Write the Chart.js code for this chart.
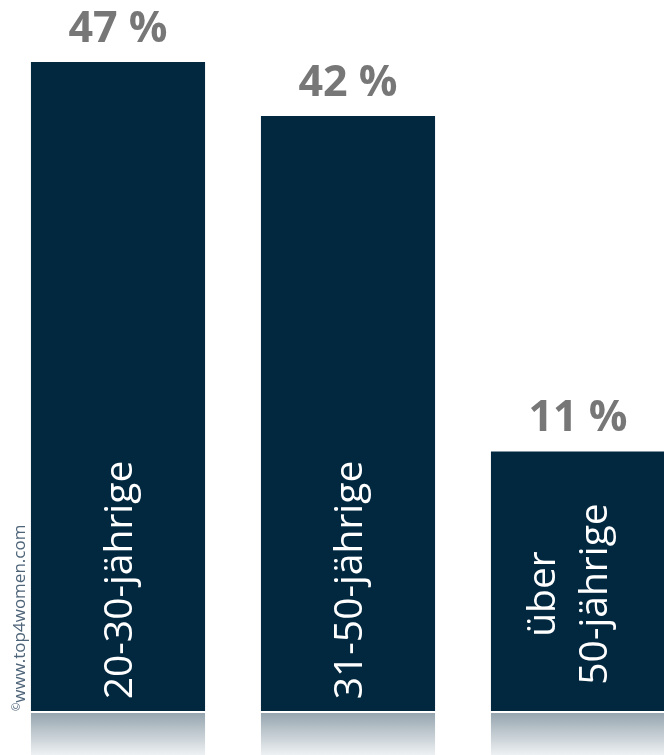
<!DOCTYPE html>
<html lang="de">
<head>
<meta charset="utf-8">
<title>Altersgruppen</title>
<script src="https://cdn.jsdelivr.net/npm/chart.js@4/dist/chart.umd.min.js"></script>
<style>
    html, body { margin: 0; padding: 0; background: #fff; }
    #wrap { width: 664px; height: 755px; position: relative; }
</style>
</head>
<body>
<div id="wrap"><canvas id="altersChart"></canvas></div>
<script>
    // Altersgruppen und Anteile in Prozent
    const kategorien = ['20-30-jährige', '31-50-jährige', ['über', '50-jährige']];
    const anteile = [47, 42, 11];
    const wertLabels = anteile.map(v => `${v} %`);

    // untere Grenze der Werteachse, Balken starten dort
    const Y_MIN = -13;
    const Y_MAX = 47;

    const BALKEN_FARBE = '#022840';
    const FONT = '"Open Sans", "Noto Sans", sans-serif';

    // Spiegelung unter den Balken
    const spiegelung = {
        id: 'spiegelung',
        afterDatasetsDraw(chart) {
            const ctx = chart.ctx;
            const meta = chart.getDatasetMeta(0);
            const unten = chart.height;
            ctx.save();
            meta.data.forEach(bar => {
                const top = bar.base + 2;
                const grad = ctx.createLinearGradient(0, top, 0, unten);
                grad.addColorStop(0, '#96a5af');
                grad.addColorStop(1, '#eef1f3');
                ctx.fillStyle = grad;
                ctx.fillRect(bar.x - bar.width / 2, top, bar.width, unten - top);
            });
            ctx.restore();
        }
    };

    // Prozentwerte über und Gruppennamen in den Balken
    const beschriftung = {
        id: 'beschriftung',
        afterDatasetsDraw(chart) {
            const ctx = chart.ctx;
            const meta = chart.getDatasetMeta(0);
            ctx.save();

            ctx.fillStyle = '#777777';
            ctx.font = `bold 43px ${FONT}`;
            ctx.textAlign = 'center';
            ctx.textBaseline = 'alphabetic';
            meta.data.forEach((bar, i) => {
                ctx.fillText(wertLabels[i], bar.x, bar.y - 20);
            });

            const size = 39;
            ctx.fillStyle = '#ffffff';
            ctx.font = `${size}px ${FONT}`;
            meta.data.forEach((bar, i) => {
                const zeilen = [].concat(kategorien[i]);
                const n = zeilen.length;
                const mitteY = bar.base - (n > 1 ? 117 : 131);
                const versatz = n > 1 ? -11 : 0;
                ctx.save();
                ctx.translate(bar.x, mitteY);
                ctx.rotate(-Math.PI / 2);
                zeilen.forEach((zeile, z) => {
                    const y = (z - (n - 1) / 2) * 52 + versatz + size * 0.357;
                    ctx.fillText(zeile, 0, y);
                });
                ctx.restore();
            });

            // Quellenangabe am linken Rand
            ctx.fillStyle = '#4e6479';
            ctx.textAlign = 'left';
            ctx.translate(25, 711);
            ctx.rotate(-Math.PI / 2);
            ctx.font = `10px ${FONT}`;
            ctx.fillText('©', 0, -5);
            const w = ctx.measureText('©').width;
            ctx.font = `17px ${FONT}`;
            ctx.fillText('www.top4women.com', w, 0);
            ctx.restore();
        }
    };

    const ctx = document.getElementById('altersChart');
    new Chart(ctx, {
        type: 'bar',
        data: {
            labels: kategorien,
            datasets: [{
                data: anteile,
                base: Y_MIN,
                backgroundColor: BALKEN_FARBE,
                borderWidth: 0,
                categoryPercentage: 0.757,
                barPercentage: 1,
                clip: false
            }]
        },
        options: {
            responsive: true,
            maintainAspectRatio: false,
            animation: false,
            layout: {
                padding: { left: 118, right: 86, top: 62, bottom: 44 }
            },
            scales: {
                x: { display: false, offset: false },
                y: { display: false, min: Y_MIN, max: Y_MAX }
            },
            plugins: {
                legend: { display: false },
                tooltip: { enabled: false }
            }
        },
        plugins: [spiegelung, beschriftung]
    });
</script>
</body>
</html>
